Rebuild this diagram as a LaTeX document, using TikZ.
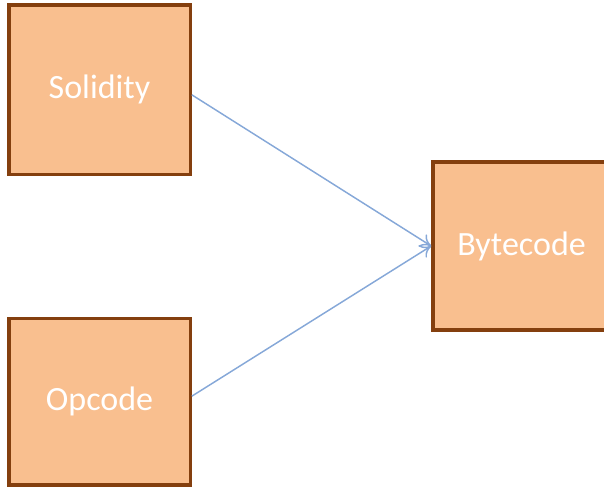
\documentclass[tikz,border=0pt]{standalone}
\usepackage{fontspec}
\setmainfont{Carlito}
\usepackage{tikz}
\usetikzlibrary{arrows.meta}
\definecolor{boxfill}{HTML}{F9BF8F}
\definecolor{boxline}{HTML}{843F0E}
\definecolor{flowline}{HTML}{86A8D8}
\tikzset{
    block/.style={
           rectangle,
           draw=boxline, line width=2.5pt,
           fill=boxfill,
           inner sep=0pt,
           text=white,
           font=\fontsize{25.5}{30}\selectfont,
           },
}
\tikzset{
    flow/.style={
           draw=flowline, line width=1.1pt,
           -{To[length=8pt,width=11pt]},
           },
}

\begin{document}
\begin{tikzpicture}[x=0.75pt,y=-0.75pt]
\useasboundingbox (0,0) rectangle (604,487);
\clip (0,0) rectangle (604,487);
\node[block,minimum width=136pt,minimum height=127pt](sol) at (99.5,89.5){Solidity};
\node[block,minimum width=136pt,minimum height=125pt](op) at (99.5,401.5){Opcode};
\node[block,minimum width=133pt,minimum height=126pt,text width=133pt,align=center](byte) at (521.5,246){Bytecode};
\draw[flow] ([yshift=-4pt]sol.east) -- (byte.west);
\draw[flow] ([yshift=4pt]op.east) -- (byte.west);
\end{tikzpicture}
\end{document}
